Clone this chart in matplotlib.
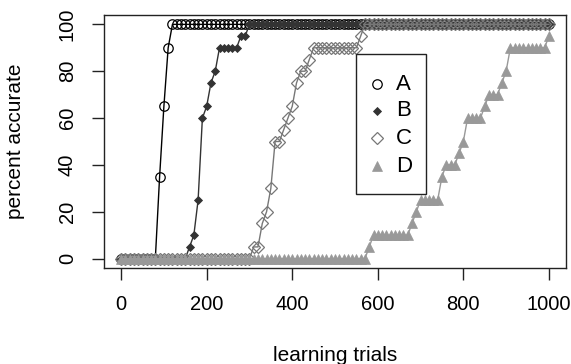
import matplotlib
matplotlib.use("Agg")
import matplotlib.pyplot as plt
from matplotlib.patches import Rectangle

plt.rcParams['font.family'] = ['Liberation Sans', 'DejaVu Sans']

trials = list(range(0, 1001, 10))

acc_A = [0, 0, 0, 0, 0, 0, 0, 0, 0, 35,
         65, 90, 100, 100, 100, 100, 100, 100, 100, 100,
         100, 100, 100, 100, 100, 100, 100, 100, 100, 100,
         100, 100, 100, 100, 100, 100, 100, 100, 100, 100,
         100, 100, 100, 100, 100, 100, 100, 100, 100, 100,
         100, 100, 100, 100, 100, 100, 100, 100, 100, 100,
         100, 100, 100, 100, 100, 100, 100, 100, 100, 100,
         100, 100, 100, 100, 100, 100, 100, 100, 100, 100,
         100, 100, 100, 100, 100, 100, 100, 100, 100, 100,
         100, 100, 100, 100, 100, 100, 100, 100, 100, 100,
         100]

acc_B = [0, 0, 0, 0, 0, 0, 0, 0, 0, 0,
         0, 0, 0, 0, 0, 0, 5, 10, 25, 60,
         65, 75, 80, 90, 90, 90, 90, 90, 95, 95,
         100, 100, 100, 100, 100, 100, 100, 100, 100, 100,
         100, 100, 100, 100, 100, 100, 100, 100, 100, 100,
         100, 100, 100, 100, 100, 100, 100, 100, 100, 100,
         100, 100, 100, 100, 100, 100, 100, 100, 100, 100,
         100, 100, 100, 100, 100, 100, 100, 100, 100, 100,
         100, 100, 100, 100, 100, 100, 100, 100, 100, 100,
         100, 100, 100, 100, 100, 100, 100, 100, 100, 100,
         100]

acc_C = [0, 0, 0, 0, 0, 0, 0, 0, 0, 0,
         0, 0, 0, 0, 0, 0, 0, 0, 0, 0,
         0, 0, 0, 0, 0, 0, 0, 0, 0, 0,
         0, 5, 5, 15, 20, 30, 50, 50, 55, 60,
         65, 75, 80, 80, 85, 90, 90, 90, 90, 90,
         90, 90, 90, 90, 90, 90, 95, 100, 100, 100,
         100, 100, 100, 100, 100, 100, 100, 100, 100, 100,
         100, 100, 100, 100, 100, 100, 100, 100, 100, 100,
         100, 100, 100, 100, 100, 100, 100, 100, 100, 100,
         100, 100, 100, 100, 100, 100, 100, 100, 100, 100,
         100]

acc_D = [0, 0, 0, 0, 0, 0, 0, 0, 0, 0,
         0, 0, 0, 0, 0, 0, 0, 0, 0, 0,
         0, 0, 0, 0, 0, 0, 0, 0, 0, 0,
         0, 0, 0, 0, 0, 0, 0, 0, 0, 0,
         0, 0, 0, 0, 0, 0, 0, 0, 0, 0,
         0, 0, 0, 0, 0, 0, 0, 0, 5, 10,
         10, 10, 10, 10, 10, 10, 10, 10, 15, 20,
         25, 25, 25, 25, 25, 35, 40, 40, 40, 45,
         50, 60, 60, 60, 60, 65, 70, 70, 70, 75,
         80, 90, 90, 90, 90, 90, 90, 90, 90, 90,
         95]

labels = ['A', 'B', 'C', 'D']
colors = ['#000000', '#333333', '#777777', '#999999']

fig = plt.figure(figsize=(5.71, 3.64), dpi=100)
W, H = 571, 364
AX_L, AX_R, AX_T, AX_B = 104, 566, 15, 268
ax = fig.add_axes([AX_L / W, 1 - AX_B / H, (AX_R - AX_L) / W, (AX_B - AX_T) / H])

styles = [
    dict(marker='o', mfc='none', ms=6.8, mew=0.9),
    dict(marker='D', mfc=colors[1], ms=3.8, mew=0.6),
    dict(marker='D', mfc='none', ms=6.6, mew=0.9),
    dict(marker='^', mfc=colors[3], ms=7.0, mew=0.5),
]
series = [acc_A, acc_B, acc_C, acc_D]
for vals, col, st in zip(series, colors, styles):
    ax.plot(trials, vals, color=col, lw=1.0, mec=col, **st)

ax.set_xlim(-40, 1040)
ax.set_ylim(-4, 104)
ax.set_xticks([0, 200, 400, 600, 800, 1000])
ax.set_yticks([0, 20, 40, 60, 80, 100])
for s in ax.spines.values():
    s.set_color('#222222')
    s.set_linewidth(1.0)
ax.tick_params(direction='out', length=8.6, width=1.0, pad=11, labelsize=14.5,
               color='#222222')
ax.tick_params(axis='y', labelrotation=90)
for t in ax.get_yticklabels():
    t.set_va('center')

ax.set_xlabel('learning trials', fontsize=15)
ax.xaxis.set_label_coords(0.5, -0.31)
ax.xaxis.label.set_va('top')
ax.set_ylabel('percent accurate', fontsize=15)
ax.yaxis.set_label_coords(-0.17, 0.5)


def ax_x(px):
    return (px - AX_L) / (AX_R - AX_L)


def ax_y(py):
    return (AX_B - py) / (AX_B - AX_T)


# legend drawn manually to match the boxed R-style legend
box = Rectangle((ax_x(356), ax_y(194)), ax_x(426) - ax_x(356), ax_y(54) - ax_y(194),
                transform=ax.transAxes, facecolor='white', edgecolor='#222222',
                lw=1.0, zorder=5)
ax.add_patch(box)
rows = [84, 111, 138, 166]
for lab, col, st, py in zip(labels, colors, styles, rows):
    ax.plot([ax_x(377)], [ax_y(py)], transform=ax.transAxes, ls='none',
            color=col, mec=col, zorder=6, clip_on=False, **st)
    ax.text(ax_x(396), ax_y(py), lab, transform=ax.transAxes, fontsize=16,
            va='center', ha='left', zorder=6)

fig.savefig('out.png', dpi=100)
